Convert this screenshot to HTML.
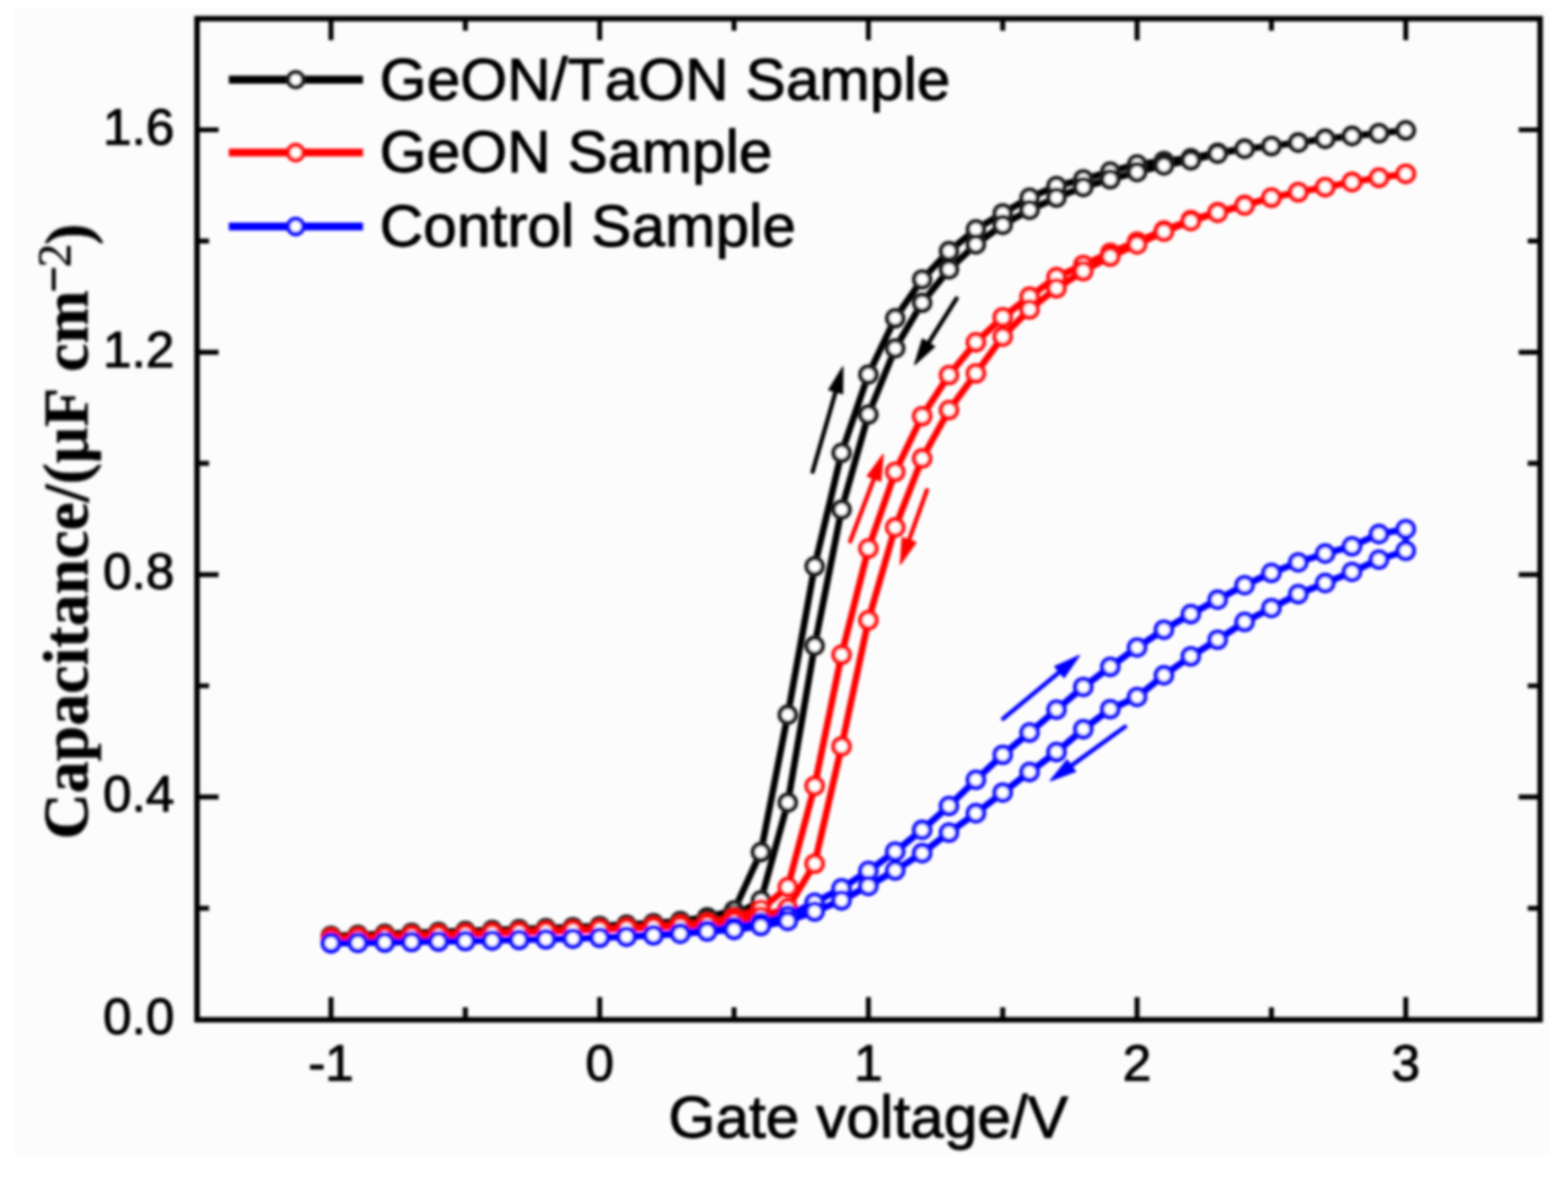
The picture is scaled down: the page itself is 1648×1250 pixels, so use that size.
<!DOCTYPE html><html><head><meta charset="utf-8"><style>html,body{margin:0;padding:0;background:#ffffff;}svg{display:block}</style></head><body><svg style="font-kerning:none" width="1648" height="1250" viewBox="0 0 1648 1250">
<defs><filter id="bl" filterUnits="userSpaceOnUse" x="0" y="0" width="1648" height="1250"><feGaussianBlur stdDeviation="1.5"/></filter></defs>
<rect width="1648" height="1250" fill="#ffffff"/>
<rect x="14" y="8" width="1615" height="1207" fill="#fcfcfc"/>
<g filter="url(#bl)">
<path d="M347.9,1071.7V1048.3M347.9,19.6V42.3M630.3,1071.7V1048.3M630.3,19.6V42.3M912.7,1071.7V1048.3M912.7,19.6V42.3M1195.1,1071.7V1048.3M1195.1,19.6V42.3M1477.5,1071.7V1048.3M1477.5,19.6V42.3M489.1,1071.7V1059.0M489.1,19.6V32.3M771.5,1071.7V1059.0M771.5,19.6V32.3M1053.9,1071.7V1059.0M1053.9,19.6V32.3M1336.3,1071.7V1059.0M1336.3,19.6V32.3M206.7,837.9H229.7M1618.7,837.9H1596.2M206.7,604.1H229.7M1618.7,604.1H1596.2M206.7,370.3H229.7M1618.7,370.3H1596.2M206.7,136.5H229.7M1618.7,136.5H1596.2M206.7,954.8H219.7M1618.7,954.8H1605.7M206.7,721.0H219.7M1618.7,721.0H1605.7M206.7,487.2H219.7M1618.7,487.2H1605.7M206.7,253.4H219.7M1618.7,253.4H1605.7" stroke="#000" stroke-width="5.2" fill="none"/>
<path d="M347.9,984.0L376.1,983.0L404.4,981.9L432.6,980.9L460.9,979.8L489.1,978.8L517.3,977.8L545.6,976.8L573.8,975.8L602.1,974.7L630.3,973.5L658.5,972.1L686.8,970.5L715.0,968.2L743.3,964.2L771.5,957.1L799.7,895.8L828.0,751.4L856.2,595.3L884.5,476.1L912.7,393.7L940.9,334.6L969.2,293.7L997.4,263.9L1025.7,241.1L1053.9,224.2L1082.1,207.8L1110.4,195.5L1138.6,188.5L1166.9,180.3L1195.1,172.7L1223.3,169.2L1251.6,166.3L1279.8,160.5L1308.1,156.4L1336.3,153.5L1364.5,149.9L1392.8,145.9L1421.0,142.9L1449.3,140.0L1477.5,137.1L1477.5,137.1L1449.3,140.0L1421.0,142.9L1392.8,145.9L1364.5,149.9L1336.3,153.5L1308.1,156.4L1279.8,161.6L1251.6,168.6L1223.3,173.9L1195.1,180.9L1166.9,188.5L1138.6,196.7L1110.4,207.8L1082.1,220.7L1053.9,236.4L1025.7,256.9L997.4,283.2L969.2,318.3L940.9,366.2L912.7,435.8L884.5,535.7L856.2,678.9L828.0,843.7L799.7,946.6L771.5,963.0L743.3,967.1L715.0,969.4L686.8,971.2L658.5,972.8L630.3,974.1L602.1,975.2L573.8,976.1L545.6,977.0L517.3,977.8L489.1,978.8L460.9,979.8L432.6,980.8L404.4,981.8L376.1,982.9L347.9,984.0" stroke="#000" stroke-width="7.0" fill="none" stroke-linejoin="round"/>
<g fill="#fff" stroke="#1a1a1a" stroke-width="4.8"><circle cx="347.9" cy="984.0" r="8.4"/><circle cx="376.1" cy="983.0" r="8.4"/><circle cx="404.4" cy="981.9" r="8.4"/><circle cx="432.6" cy="980.9" r="8.4"/><circle cx="460.9" cy="979.8" r="8.4"/><circle cx="489.1" cy="978.8" r="8.4"/><circle cx="517.3" cy="977.8" r="8.4"/><circle cx="545.6" cy="976.8" r="8.4"/><circle cx="573.8" cy="975.8" r="8.4"/><circle cx="602.1" cy="974.7" r="8.4"/><circle cx="630.3" cy="973.5" r="8.4"/><circle cx="658.5" cy="972.1" r="8.4"/><circle cx="686.8" cy="970.5" r="8.4"/><circle cx="715.0" cy="968.2" r="8.4"/><circle cx="743.3" cy="964.2" r="8.4"/><circle cx="771.5" cy="957.1" r="8.4"/><circle cx="799.7" cy="895.8" r="8.4"/><circle cx="828.0" cy="751.4" r="8.4"/><circle cx="856.2" cy="595.3" r="8.4"/><circle cx="884.5" cy="476.1" r="8.4"/><circle cx="912.7" cy="393.7" r="8.4"/><circle cx="940.9" cy="334.6" r="8.4"/><circle cx="969.2" cy="293.7" r="8.4"/><circle cx="997.4" cy="263.9" r="8.4"/><circle cx="1025.7" cy="241.1" r="8.4"/><circle cx="1053.9" cy="224.2" r="8.4"/><circle cx="1082.1" cy="207.8" r="8.4"/><circle cx="1110.4" cy="195.5" r="8.4"/><circle cx="1138.6" cy="188.5" r="8.4"/><circle cx="1166.9" cy="180.3" r="8.4"/><circle cx="1195.1" cy="172.7" r="8.4"/><circle cx="1223.3" cy="169.2" r="8.4"/><circle cx="1251.6" cy="166.3" r="8.4"/><circle cx="1279.8" cy="160.5" r="8.4"/><circle cx="1308.1" cy="156.4" r="8.4"/><circle cx="1336.3" cy="153.5" r="8.4"/><circle cx="1364.5" cy="149.9" r="8.4"/><circle cx="1392.8" cy="145.9" r="8.4"/><circle cx="1421.0" cy="142.9" r="8.4"/><circle cx="1449.3" cy="140.0" r="8.4"/><circle cx="1477.5" cy="137.1" r="8.4"/><circle cx="1477.5" cy="137.1" r="8.4"/><circle cx="1449.3" cy="140.0" r="8.4"/><circle cx="1421.0" cy="142.9" r="8.4"/><circle cx="1392.8" cy="145.9" r="8.4"/><circle cx="1364.5" cy="149.9" r="8.4"/><circle cx="1336.3" cy="153.5" r="8.4"/><circle cx="1308.1" cy="156.4" r="8.4"/><circle cx="1279.8" cy="161.6" r="8.4"/><circle cx="1251.6" cy="168.6" r="8.4"/><circle cx="1223.3" cy="173.9" r="8.4"/><circle cx="1195.1" cy="180.9" r="8.4"/><circle cx="1166.9" cy="188.5" r="8.4"/><circle cx="1138.6" cy="196.7" r="8.4"/><circle cx="1110.4" cy="207.8" r="8.4"/><circle cx="1082.1" cy="220.7" r="8.4"/><circle cx="1053.9" cy="236.4" r="8.4"/><circle cx="1025.7" cy="256.9" r="8.4"/><circle cx="997.4" cy="283.2" r="8.4"/><circle cx="969.2" cy="318.3" r="8.4"/><circle cx="940.9" cy="366.2" r="8.4"/><circle cx="912.7" cy="435.8" r="8.4"/><circle cx="884.5" cy="535.7" r="8.4"/><circle cx="856.2" cy="678.9" r="8.4"/><circle cx="828.0" cy="843.7" r="8.4"/><circle cx="799.7" cy="946.6" r="8.4"/><circle cx="771.5" cy="963.0" r="8.4"/><circle cx="743.3" cy="967.1" r="8.4"/><circle cx="715.0" cy="969.4" r="8.4"/><circle cx="686.8" cy="971.2" r="8.4"/><circle cx="658.5" cy="972.8" r="8.4"/><circle cx="630.3" cy="974.1" r="8.4"/><circle cx="602.1" cy="975.2" r="8.4"/><circle cx="573.8" cy="976.1" r="8.4"/><circle cx="545.6" cy="977.0" r="8.4"/><circle cx="517.3" cy="977.8" r="8.4"/><circle cx="489.1" cy="978.8" r="8.4"/><circle cx="460.9" cy="979.8" r="8.4"/><circle cx="432.6" cy="980.8" r="8.4"/><circle cx="404.4" cy="981.8" r="8.4"/><circle cx="376.1" cy="982.9" r="8.4"/><circle cx="347.9" cy="984.0" r="8.4"/></g>
<path d="M347.9,986.4L376.1,985.5L404.4,984.7L432.6,983.8L460.9,982.9L489.1,982.0L517.3,981.1L545.6,980.2L573.8,979.2L602.1,978.2L630.3,977.0L658.5,975.7L686.8,974.1L715.0,972.3L743.3,970.0L771.5,964.7L799.7,956.0L828.0,932.6L856.2,826.2L884.5,688.3L912.7,576.6L940.9,496.0L969.2,437.5L997.4,394.3L1025.7,359.8L1053.9,333.5L1082.1,311.9L1110.4,291.4L1138.6,278.5L1166.9,265.7L1195.1,254.0L1223.3,242.3L1251.6,231.2L1279.8,223.0L1308.1,215.4L1336.3,207.8L1364.5,202.0L1392.8,196.7L1421.0,191.4L1449.3,186.8L1477.5,182.7L1477.5,182.7L1449.3,186.8L1421.0,191.4L1392.8,196.7L1364.5,202.0L1336.3,207.8L1308.1,216.0L1279.8,223.6L1251.6,232.4L1223.3,243.5L1195.1,256.9L1166.9,269.8L1138.6,285.0L1110.4,303.1L1082.1,325.3L1053.9,353.9L1025.7,392.5L997.4,431.1L969.2,481.9L940.9,554.4L912.7,652.0L884.5,784.7L856.2,908.0L828.0,954.8L799.7,963.6L771.5,968.8L743.3,971.8L715.0,973.5L686.8,974.8L658.5,975.9L630.3,977.0L602.1,978.1L573.8,979.1L545.6,980.1L517.3,981.0L489.1,982.0L460.9,982.9L432.6,983.8L404.4,984.7L376.1,985.5L347.9,986.4" stroke="#ff0000" stroke-width="7.0" fill="none" stroke-linejoin="round"/>
<g fill="#fff" stroke="#ff0a0a" stroke-width="4.8"><circle cx="347.9" cy="986.4" r="8.4"/><circle cx="376.1" cy="985.5" r="8.4"/><circle cx="404.4" cy="984.7" r="8.4"/><circle cx="432.6" cy="983.8" r="8.4"/><circle cx="460.9" cy="982.9" r="8.4"/><circle cx="489.1" cy="982.0" r="8.4"/><circle cx="517.3" cy="981.1" r="8.4"/><circle cx="545.6" cy="980.2" r="8.4"/><circle cx="573.8" cy="979.2" r="8.4"/><circle cx="602.1" cy="978.2" r="8.4"/><circle cx="630.3" cy="977.0" r="8.4"/><circle cx="658.5" cy="975.7" r="8.4"/><circle cx="686.8" cy="974.1" r="8.4"/><circle cx="715.0" cy="972.3" r="8.4"/><circle cx="743.3" cy="970.0" r="8.4"/><circle cx="771.5" cy="964.7" r="8.4"/><circle cx="799.7" cy="956.0" r="8.4"/><circle cx="828.0" cy="932.6" r="8.4"/><circle cx="856.2" cy="826.2" r="8.4"/><circle cx="884.5" cy="688.3" r="8.4"/><circle cx="912.7" cy="576.6" r="8.4"/><circle cx="940.9" cy="496.0" r="8.4"/><circle cx="969.2" cy="437.5" r="8.4"/><circle cx="997.4" cy="394.3" r="8.4"/><circle cx="1025.7" cy="359.8" r="8.4"/><circle cx="1053.9" cy="333.5" r="8.4"/><circle cx="1082.1" cy="311.9" r="8.4"/><circle cx="1110.4" cy="291.4" r="8.4"/><circle cx="1138.6" cy="278.5" r="8.4"/><circle cx="1166.9" cy="265.7" r="8.4"/><circle cx="1195.1" cy="254.0" r="8.4"/><circle cx="1223.3" cy="242.3" r="8.4"/><circle cx="1251.6" cy="231.2" r="8.4"/><circle cx="1279.8" cy="223.0" r="8.4"/><circle cx="1308.1" cy="215.4" r="8.4"/><circle cx="1336.3" cy="207.8" r="8.4"/><circle cx="1364.5" cy="202.0" r="8.4"/><circle cx="1392.8" cy="196.7" r="8.4"/><circle cx="1421.0" cy="191.4" r="8.4"/><circle cx="1449.3" cy="186.8" r="8.4"/><circle cx="1477.5" cy="182.7" r="8.4"/><circle cx="1477.5" cy="182.7" r="8.4"/><circle cx="1449.3" cy="186.8" r="8.4"/><circle cx="1421.0" cy="191.4" r="8.4"/><circle cx="1392.8" cy="196.7" r="8.4"/><circle cx="1364.5" cy="202.0" r="8.4"/><circle cx="1336.3" cy="207.8" r="8.4"/><circle cx="1308.1" cy="216.0" r="8.4"/><circle cx="1279.8" cy="223.6" r="8.4"/><circle cx="1251.6" cy="232.4" r="8.4"/><circle cx="1223.3" cy="243.5" r="8.4"/><circle cx="1195.1" cy="256.9" r="8.4"/><circle cx="1166.9" cy="269.8" r="8.4"/><circle cx="1138.6" cy="285.0" r="8.4"/><circle cx="1110.4" cy="303.1" r="8.4"/><circle cx="1082.1" cy="325.3" r="8.4"/><circle cx="1053.9" cy="353.9" r="8.4"/><circle cx="1025.7" cy="392.5" r="8.4"/><circle cx="997.4" cy="431.1" r="8.4"/><circle cx="969.2" cy="481.9" r="8.4"/><circle cx="940.9" cy="554.4" r="8.4"/><circle cx="912.7" cy="652.0" r="8.4"/><circle cx="884.5" cy="784.7" r="8.4"/><circle cx="856.2" cy="908.0" r="8.4"/><circle cx="828.0" cy="954.8" r="8.4"/><circle cx="799.7" cy="963.6" r="8.4"/><circle cx="771.5" cy="968.8" r="8.4"/><circle cx="743.3" cy="971.8" r="8.4"/><circle cx="715.0" cy="973.5" r="8.4"/><circle cx="686.8" cy="974.8" r="8.4"/><circle cx="658.5" cy="975.9" r="8.4"/><circle cx="630.3" cy="977.0" r="8.4"/><circle cx="602.1" cy="978.1" r="8.4"/><circle cx="573.8" cy="979.1" r="8.4"/><circle cx="545.6" cy="980.1" r="8.4"/><circle cx="517.3" cy="981.0" r="8.4"/><circle cx="489.1" cy="982.0" r="8.4"/><circle cx="460.9" cy="982.9" r="8.4"/><circle cx="432.6" cy="983.8" r="8.4"/><circle cx="404.4" cy="984.7" r="8.4"/><circle cx="376.1" cy="985.5" r="8.4"/><circle cx="347.9" cy="986.4" r="8.4"/></g>
<path d="M347.9,991.6L376.1,991.2L404.4,990.8L432.6,990.3L460.9,989.8L489.1,989.3L517.3,988.7L545.6,988.1L573.8,987.5L602.1,986.7L630.3,985.8L658.5,984.6L686.8,983.0L715.0,981.1L743.3,978.2L771.5,974.7L799.7,970.0L828.0,962.4L856.2,949.0L884.5,933.8L912.7,915.6L940.9,895.2L969.2,872.4L997.4,847.3L1025.7,819.8L1053.9,793.5L1082.1,770.1L1110.4,746.1L1138.6,722.2L1166.9,701.1L1195.1,680.7L1223.3,662.0L1251.6,645.6L1279.8,630.4L1308.1,615.2L1336.3,602.3L1364.5,591.2L1392.8,581.9L1421.0,574.3L1449.3,561.4L1477.5,556.2L1477.5,579.0L1449.3,588.3L1421.0,601.2L1392.8,612.9L1364.5,624.6L1336.3,639.2L1308.1,653.8L1279.8,672.5L1251.6,690.0L1223.3,709.9L1195.1,732.7L1166.9,745.5L1138.6,766.6L1110.4,790.6L1082.1,811.6L1053.9,833.2L1025.7,854.9L997.4,875.3L969.2,896.9L940.9,915.1L912.7,931.4L884.5,946.6L856.2,958.3L828.0,968.2L799.7,973.5L771.5,977.6L743.3,979.3L715.0,981.7L686.8,983.3L658.5,984.7L630.3,985.8L602.1,986.7L573.8,987.4L545.6,988.1L517.3,988.7L489.1,989.3L460.9,989.8L432.6,990.3L404.4,990.8L376.1,991.2L347.9,991.6" stroke="#0000ff" stroke-width="7.0" fill="none" stroke-linejoin="round"/>
<g fill="#fff" stroke="#0a0aff" stroke-width="4.8"><circle cx="347.9" cy="991.6" r="8.4"/><circle cx="376.1" cy="991.2" r="8.4"/><circle cx="404.4" cy="990.8" r="8.4"/><circle cx="432.6" cy="990.3" r="8.4"/><circle cx="460.9" cy="989.8" r="8.4"/><circle cx="489.1" cy="989.3" r="8.4"/><circle cx="517.3" cy="988.7" r="8.4"/><circle cx="545.6" cy="988.1" r="8.4"/><circle cx="573.8" cy="987.5" r="8.4"/><circle cx="602.1" cy="986.7" r="8.4"/><circle cx="630.3" cy="985.8" r="8.4"/><circle cx="658.5" cy="984.6" r="8.4"/><circle cx="686.8" cy="983.0" r="8.4"/><circle cx="715.0" cy="981.1" r="8.4"/><circle cx="743.3" cy="978.2" r="8.4"/><circle cx="771.5" cy="974.7" r="8.4"/><circle cx="799.7" cy="970.0" r="8.4"/><circle cx="828.0" cy="962.4" r="8.4"/><circle cx="856.2" cy="949.0" r="8.4"/><circle cx="884.5" cy="933.8" r="8.4"/><circle cx="912.7" cy="915.6" r="8.4"/><circle cx="940.9" cy="895.2" r="8.4"/><circle cx="969.2" cy="872.4" r="8.4"/><circle cx="997.4" cy="847.3" r="8.4"/><circle cx="1025.7" cy="819.8" r="8.4"/><circle cx="1053.9" cy="793.5" r="8.4"/><circle cx="1082.1" cy="770.1" r="8.4"/><circle cx="1110.4" cy="746.1" r="8.4"/><circle cx="1138.6" cy="722.2" r="8.4"/><circle cx="1166.9" cy="701.1" r="8.4"/><circle cx="1195.1" cy="680.7" r="8.4"/><circle cx="1223.3" cy="662.0" r="8.4"/><circle cx="1251.6" cy="645.6" r="8.4"/><circle cx="1279.8" cy="630.4" r="8.4"/><circle cx="1308.1" cy="615.2" r="8.4"/><circle cx="1336.3" cy="602.3" r="8.4"/><circle cx="1364.5" cy="591.2" r="8.4"/><circle cx="1392.8" cy="581.9" r="8.4"/><circle cx="1421.0" cy="574.3" r="8.4"/><circle cx="1449.3" cy="561.4" r="8.4"/><circle cx="1477.5" cy="556.2" r="8.4"/><circle cx="1477.5" cy="579.0" r="8.4"/><circle cx="1449.3" cy="588.3" r="8.4"/><circle cx="1421.0" cy="601.2" r="8.4"/><circle cx="1392.8" cy="612.9" r="8.4"/><circle cx="1364.5" cy="624.6" r="8.4"/><circle cx="1336.3" cy="639.2" r="8.4"/><circle cx="1308.1" cy="653.8" r="8.4"/><circle cx="1279.8" cy="672.5" r="8.4"/><circle cx="1251.6" cy="690.0" r="8.4"/><circle cx="1223.3" cy="709.9" r="8.4"/><circle cx="1195.1" cy="732.7" r="8.4"/><circle cx="1166.9" cy="745.5" r="8.4"/><circle cx="1138.6" cy="766.6" r="8.4"/><circle cx="1110.4" cy="790.6" r="8.4"/><circle cx="1082.1" cy="811.6" r="8.4"/><circle cx="1053.9" cy="833.2" r="8.4"/><circle cx="1025.7" cy="854.9" r="8.4"/><circle cx="997.4" cy="875.3" r="8.4"/><circle cx="969.2" cy="896.9" r="8.4"/><circle cx="940.9" cy="915.1" r="8.4"/><circle cx="912.7" cy="931.4" r="8.4"/><circle cx="884.5" cy="946.6" r="8.4"/><circle cx="856.2" cy="958.3" r="8.4"/><circle cx="828.0" cy="968.2" r="8.4"/><circle cx="799.7" cy="973.5" r="8.4"/><circle cx="771.5" cy="977.6" r="8.4"/><circle cx="743.3" cy="979.3" r="8.4"/><circle cx="715.0" cy="981.7" r="8.4"/><circle cx="686.8" cy="983.3" r="8.4"/><circle cx="658.5" cy="984.7" r="8.4"/><circle cx="630.3" cy="985.8" r="8.4"/><circle cx="602.1" cy="986.7" r="8.4"/><circle cx="573.8" cy="987.4" r="8.4"/><circle cx="545.6" cy="988.1" r="8.4"/><circle cx="517.3" cy="988.7" r="8.4"/><circle cx="489.1" cy="989.3" r="8.4"/><circle cx="460.9" cy="989.8" r="8.4"/><circle cx="432.6" cy="990.3" r="8.4"/><circle cx="404.4" cy="990.8" r="8.4"/><circle cx="376.1" cy="991.2" r="8.4"/><circle cx="347.9" cy="991.6" r="8.4"/></g>
<path d="M854.1,495.9L879.4,408.0" stroke="#000" stroke-width="4.6" stroke-linecap="round"/>
<path d="M885.8,385.9L885.5,413.9L871.1,409.8Z" fill="#000" stroke="#000" stroke-width="1.5" stroke-linejoin="round"/>
<path d="M1005.4,313.8L973.7,363.9" stroke="#000" stroke-width="4.6" stroke-linecap="round"/>
<path d="M961.4,383.3L969.5,356.5L982.2,364.5Z" fill="#000" stroke="#000" stroke-width="1.5" stroke-linejoin="round"/>
<path d="M893.6,569.1L920.0,499.4" stroke="#ff0000" stroke-width="4.6" stroke-linecap="round"/>
<path d="M928.2,477.9L925.6,505.8L911.6,500.5Z" fill="#ff0000" stroke="#ff0000" stroke-width="1.5" stroke-linejoin="round"/>
<path d="M974.2,515.4L954.1,571.4" stroke="#ff0000" stroke-width="4.6" stroke-linecap="round"/>
<path d="M946.4,593.1L948.4,565.2L962.6,570.2Z" fill="#ff0000" stroke="#ff0000" stroke-width="1.5" stroke-linejoin="round"/>
<path d="M1054.4,755.5L1116.6,704.0" stroke="#0000ff" stroke-width="4.6" stroke-linecap="round"/>
<path d="M1134.3,689.3L1118.3,712.3L1108.7,700.8Z" fill="#0000ff" stroke="#0000ff" stroke-width="1.5" stroke-linejoin="round"/>
<path d="M1182.4,764.0L1122.6,807.3" stroke="#0000ff" stroke-width="4.6" stroke-linecap="round"/>
<path d="M1104.0,820.8L1121.5,798.9L1130.3,811.0Z" fill="#0000ff" stroke="#0000ff" stroke-width="1.5" stroke-linejoin="round"/>
<rect x="207.1" y="19.6" width="1411.6" height="1052.5" fill="none" stroke="#000" stroke-width="5.8"/>
<path d="M240.5,83.7H381.5" stroke="#000" stroke-width="8.4"/>
<circle cx="310.8" cy="83.7" r="7.9" fill="#fff" stroke="#1a1a1a" stroke-width="4.8"/>
<text x="399" y="104.7" font-family="Liberation Sans, sans-serif" stroke="#000" stroke-width="1.1" stroke-linejoin="round" font-size="63.5">GeON/TaON Sample</text>
<path d="M240.5,160.4H381.5" stroke="#ff0000" stroke-width="8.4"/>
<circle cx="310.8" cy="160.4" r="7.9" fill="#fff" stroke="#ff0a0a" stroke-width="4.8"/>
<text x="399" y="181.4" font-family="Liberation Sans, sans-serif" stroke="#000" stroke-width="1.1" stroke-linejoin="round" font-size="63.5">GeON Sample</text>
<path d="M240.5,238.1H381.5" stroke="#0000ff" stroke-width="8.4"/>
<circle cx="310.8" cy="238.1" r="7.9" fill="#fff" stroke="#0a0aff" stroke-width="4.8"/>
<text x="399" y="259.1" font-family="Liberation Sans, sans-serif" stroke="#000" stroke-width="1.1" stroke-linejoin="round" font-size="63.5">Control Sample</text>
<text x="183.3" y="1087.0" text-anchor="end" font-family="Liberation Sans, sans-serif" stroke="#000" stroke-width="1.1" stroke-linejoin="round" font-size="54">0.0</text>
<text x="183.3" y="853.2" text-anchor="end" font-family="Liberation Sans, sans-serif" stroke="#000" stroke-width="1.1" stroke-linejoin="round" font-size="54">0.4</text>
<text x="183.3" y="619.4" text-anchor="end" font-family="Liberation Sans, sans-serif" stroke="#000" stroke-width="1.1" stroke-linejoin="round" font-size="54">0.8</text>
<text x="183.3" y="385.6" text-anchor="end" font-family="Liberation Sans, sans-serif" stroke="#000" stroke-width="1.1" stroke-linejoin="round" font-size="54">1.2</text>
<text x="183.3" y="151.8" text-anchor="end" font-family="Liberation Sans, sans-serif" stroke="#000" stroke-width="1.1" stroke-linejoin="round" font-size="54">1.6</text>
<text x="347.9" y="1136" text-anchor="middle" font-family="Liberation Sans, sans-serif" stroke="#000" stroke-width="1.1" stroke-linejoin="round" font-size="54">-1</text>
<text x="630.3" y="1136" text-anchor="middle" font-family="Liberation Sans, sans-serif" stroke="#000" stroke-width="1.1" stroke-linejoin="round" font-size="54">0</text>
<text x="912.7" y="1136" text-anchor="middle" font-family="Liberation Sans, sans-serif" stroke="#000" stroke-width="1.1" stroke-linejoin="round" font-size="54">1</text>
<text x="1195.1" y="1136" text-anchor="middle" font-family="Liberation Sans, sans-serif" stroke="#000" stroke-width="1.1" stroke-linejoin="round" font-size="54">2</text>
<text x="1477.5" y="1136" text-anchor="middle" font-family="Liberation Sans, sans-serif" stroke="#000" stroke-width="1.1" stroke-linejoin="round" font-size="54">3</text>
<text x="702.5" y="1195.5" font-family="Liberation Sans, sans-serif" stroke="#000" stroke-width="1.1" stroke-linejoin="round" font-size="63.5">Gate voltage/V</text>
<text transform="translate(92,882.5) rotate(-90)" font-family="Liberation Serif, serif" font-weight="bold" stroke="#000" stroke-width="0.5" font-size="67.2">Capacitance/(μF cm<tspan x="574.5" y="-18.6" font-size="50" font-weight="bold">−</tspan><tspan x="601.5" y="-18.3" font-size="50" font-weight="normal">2</tspan><tspan x="625" y="1.5">)</tspan></text>
</g>
</svg></body></html>
